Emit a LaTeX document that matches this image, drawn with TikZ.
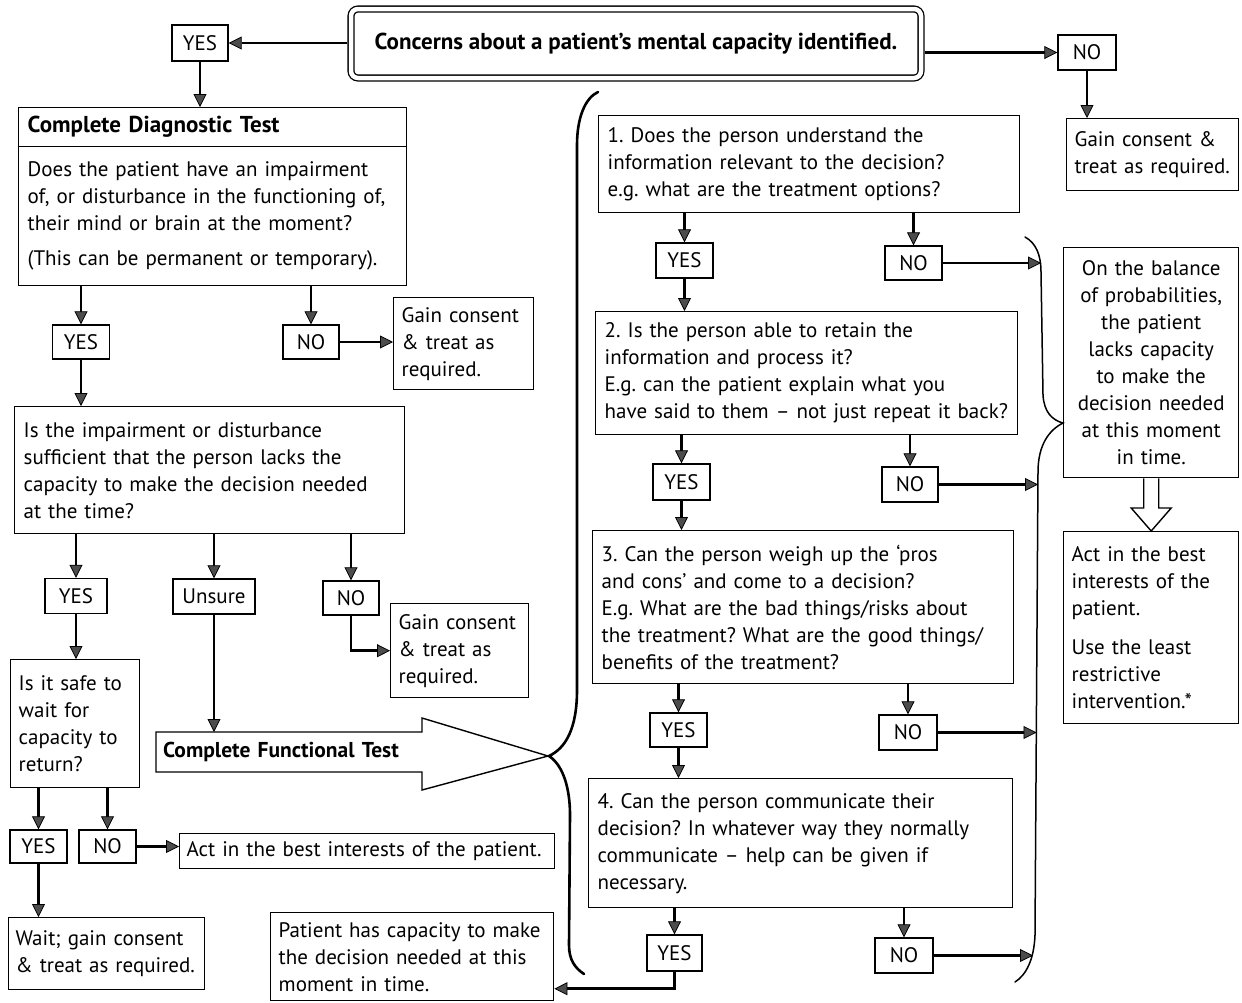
\documentclass[tikz,border=0pt]{standalone}
\usepackage{fontspec}
\setmainfont{PT Sans}
\usetikzlibrary{arrows.meta,calc}
\newcommand\myfont{\fontsize{21}{27}\selectfont\frenchspacing}
\newcommand\mybold{\fontsize{23}{27}\selectfont\bfseries\frenchspacing}
\begin{document}
\begin{tikzpicture}[x=1pt,y=-1pt,
  every node/.style={font=\myfont},
  box/.style={draw, line width=1.4pt, anchor=north west, inner xsep=9pt, inner ysep=0pt, align=left},
  bx/.style n args={3}{minimum width=#1pt, minimum height=#2pt, text width=#3pt},
  lbl/.style={draw, line width=1.4pt, inner sep=0pt},
  arr/.style={line width=2.8pt, -{Triangle[length=13pt,width=13pt,line width=0.8pt,fill=black!70]}},
  lbrace/.style={line width=2.6pt, line cap=round},
  rbrace/.style={line width=1.5pt, line cap=round},
  hollow/.style={line width=1.4pt, line join=miter, fill=white},
]
\useasboundingbox[fill=white] (0,0) rectangle (1242,1002);

% ---------- top row ----------
\node[draw, rounded corners=7pt, double, double distance=4.5pt, line width=1.3pt,
      minimum width=570pt, minimum height=69pt, inner sep=0pt, outer sep=3.6pt,
      font=\mybold] (concerns) at (636,43.5) {Concerns about a patient’s mental capacity identified.};
\node[lbl, minimum width=56pt, minimum height=36pt] (yes0) at (200,43) {YES};
\node[lbl, minimum width=58pt, minimum height=35pt] (no0) at (1087,52.5) {NO};
\node[box, bx={172}{72}{156}, inner xsep=8pt] (gain0) at (1066,118) {\mbox{Gain consent \&}\\\mbox{treat as required.}};

% ---------- left column ----------
\node[box, bx={388}{39}{370}, font=\mybold] (diaghead) at (18,107) {Complete Diagnostic Test};
\node[box, bx={388}{139}{370}] (diagbody) at (18,146) {Does the patient have an impairment\\of, or disturbance in the functioning of,\\their mind or brain at the moment?\\[8pt](This can be permanent or temporary).};
\node[lbl, minimum width=57pt, minimum height=34pt] (yes1) at (81,342) {YES};
\node[lbl, minimum width=56pt, minimum height=34pt] (no1) at (311,342) {NO};
\node[box, bx={140}{92}{124}, inner xsep=8pt] (gain1) at (393,297) {Gain consent\\\& treat as\\required.};
\node[box, bx={390}{127}{372}] (imp) at (14,406) {Is the impairment or disturbance\\sufficient that the person lacks the\\capacity to make the decision needed\\at the time?};
\node[lbl, minimum width=62pt, minimum height=35pt] (yes2) at (76,596) {YES};
\node[lbl, minimum width=82pt, minimum height=35pt] (unsure) at (214,596.5) {Unsure};
\node[lbl, minimum width=56pt, minimum height=34pt] (no2) at (351,598) {NO};
\node[box, bx={138}{94}{122}, inner xsep=8pt] (gain2) at (390,603) {Gain consent\\\& treat as\\required.};
\node[box, bx={129}{128}{113}, inner xsep=8pt] (safe) at (10,659) {Is it safe to\\wait for\\capacity to\\return?};
\draw[line width=1.4pt, line join=miter] (156,732) -- (422,732) -- (422,718) -- (548,756) -- (422,790) -- (422,772) -- (156,772) -- cycle;
\node[anchor=north west, minimum width=266pt, minimum height=40pt, inner xsep=7pt, inner ysep=0pt,
      text width=252pt, align=left, font=\fontsize{21.5}{27}\selectfont\bfseries] (func) at (156,732) {\mbox{Complete Functional Test}};
\node[lbl, minimum width=57pt, minimum height=33pt] (yes3) at (38.5,846.5) {YES};
\node[lbl, minimum width=57pt, minimum height=33pt] (no3) at (107.5,846.5) {NO};
\node[box, bx={375}{35}{361}, inner xsep=7pt] (actbest) at (179,833) {Act in the best interests of the patient.};
\node[box, bx={196}{72}{182}, inner xsep=7pt] (wait) at (8,917) {\mbox{Wait; gain consent}\\\mbox{\& treat as required.}};
\node[box, bx={283}{88}{267}, inner xsep=8pt] (patient) at (270,912) {Patient has capacity to make\\the decision needed at this\\moment in time.};

% ---------- middle column ----------
\node[box, bx={421}{97}{403}] (q1) at (598,115) {1. Does the person understand the\\information relevant to the decision?\\e.g. what are the treatment options?};
\node[lbl, minimum width=57pt, minimum height=35pt] (yq1) at (684.5,260.5) {YES};
\node[lbl, minimum width=57pt, minimum height=34pt] (nq1) at (913.5,263) {NO};
\node[box, bx={422}{123}{404}] (q2) at (595,311) {2. Is the person able to retain the\\information and process it?\\E.g. can the patient explain what you\\have said to them – not just repeat it back?};
\node[lbl, minimum width=57pt, minimum height=36pt] (yq2) at (681.5,482) {YES};
\node[lbl, minimum width=56pt, minimum height=35pt] (nq2) at (910,484.5) {NO};
\node[box, bx={421}{153}{403}] (q3) at (592,530) {3. Can the person weigh up the ‘pros\\and cons’ and come to a decision?\\E.g. What are the bad things/risks about\\the treatment? What are the good things/\\benefits of the treatment?};
\node[lbl, minimum width=57pt, minimum height=34pt] (yq3) at (678.5,730) {YES};
\node[lbl, minimum width=58pt, minimum height=35pt] (nq3) at (908,732.5) {NO};
\node[box, bx={424}{129}{406}] (q4) at (588,778) {4. Can the person communicate their\\decision? In whatever way they normally\\communicate – help can be given if\\necessary.};
\node[lbl, minimum width=55pt, minimum height=36pt] (yq4) at (674.5,953) {YES};
\node[lbl, minimum width=58pt, minimum height=35pt] (nq4) at (904,955.5) {NO};

% ---------- right column ----------
\node[box, bx={175}{230}{159}, inner xsep=8pt, align=center] (balance) at (1063,247) {On the balance\\of probabilities,\\the patient\\lacks capacity\\to make the\\decision needed\\at this moment\\in time.};
\node[box, bx={175}{192}{159}, inner xsep=8pt] (act2) at (1063,531) {Act in the best\\interests of the\\patient.\\[12pt]Use the least\\restrictive\\intervention.*};

% ---------- braces ----------
\draw[lbrace] (598,92) .. controls (585,98) and (577,118) .. (577,145) -- (577,690)
  .. controls (577,728) and (566,748) .. (549,756)
  .. controls (564,766) and (570,790) .. (570,815) -- (569,945)
  .. controls (569,960) and (575,968) .. (584,974);
\draw[rbrace] (1025,237) .. controls (1036,243) and (1041,255) .. (1041,272) -- (1043,395)
  .. controls (1044,412) and (1052,420) .. (1063,423)
  .. controls (1049,430) and (1038,445) .. (1038,472) -- (1035,935)
  .. controls (1034,960) and (1026,975) .. (1015,982);
\coordinate (b1) at (1041,263);
\coordinate (b2) at (1038,484.5);
\coordinate (b3) at (1036.5,732.5);
\coordinate (b4) at (1033,955.5);

% ---------- connectors ----------
\draw[arr] (concerns.west |- yes0.east) -- (yes0.east);
\draw[arr] (concerns.east |- no0.west) -- (no0.west);
\draw[arr] (no0.south) -- (no0.south |- gain0.north);
\draw[arr] (yes0.south) -- (yes0.south |- diaghead.north);
\draw[arr] (diagbody.south -| yes1.north) -- (yes1.north);
\draw[arr] (diagbody.south -| no1.north) -- (no1.north);
\draw[arr] (no1.east) -- (no1.east -| gain1.west);
\draw[arr] (yes1.south) -- (yes1.south |- imp.north);
\draw[arr] (imp.south -| yes2.north) -- (yes2.north);
\draw[arr] (imp.south -| unsure.north) -- (unsure.north);
\draw[arr] (imp.south -| no2.north) -- (no2.north);
\draw[arr] (no2.south) |- (gain2.west);
\draw[arr] (unsure.south) -- (unsure.south |- func.north);
\draw[arr] (yes2.south) -- (yes2.south |- safe.north);
\draw[arr] (safe.south -| yes3.north) -- (yes3.north);
\draw[arr] (safe.south -| no3.north) -- (no3.north);
\draw[arr] (no3.east) -- (no3.east -| actbest.west);
\draw[arr] (yes3.south) -- (yes3.south |- wait.north);

\draw[arr] (q1.south -| yq1.north) -- (yq1.north);
\draw[arr] (q1.south -| nq1.north) -- (nq1.north);
\draw[arr] (yq1.south) -- (yq1.south |- q2.north);
\draw[arr] (nq1.east) -- (b1);
\draw[arr] (q2.south -| yq2.north) -- (yq2.north);
\draw[arr] (q2.south -| nq2.north) -- (nq2.north);
\draw[arr] (yq2.south) -- (yq2.south |- q3.north);
\draw[arr] (nq2.east) -- (b2);
\draw[arr] (q3.south -| yq3.north) -- (yq3.north);
\draw[arr] (q3.south -| nq3.north) -- (nq3.north);
\draw[arr] (yq3.south) -- (yq3.south |- q4.north);
\draw[arr] (nq3.east) -- (b3);
\draw[arr] (q4.south -| yq4.north) -- (yq4.north);
\draw[arr] (q4.south -| nq4.north) -- (nq4.north);
\draw[arr] (nq4.east) -- (b4);
\draw[arr] (yq4.south) |- ($(patient.east)+(0,32)$);

% hollow arrow
\draw[hollow] ($(balance.south)+(-7.5,0)$) -- ($(act2.north)+(-7.5,-23)$) -- ($(act2.north)+(-20,-23)$)
  -- (act2.north) -- ($(act2.north)+(20,-23)$) -- ($(act2.north)+(7.5,-23)$) -- ($(balance.south)+(7.5,0)$);
\end{tikzpicture}
\end{document}
